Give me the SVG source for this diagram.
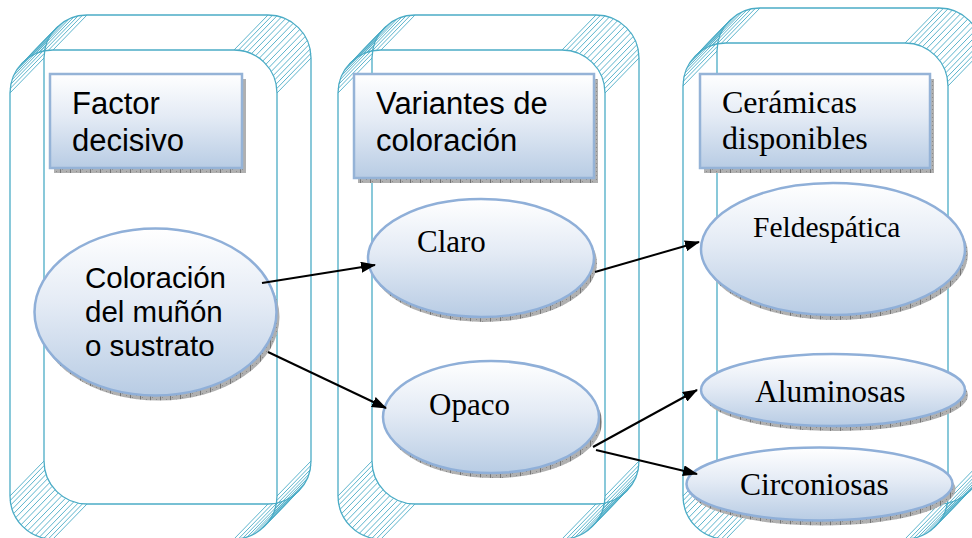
<svg xmlns="http://www.w3.org/2000/svg" xmlns:xlink="http://www.w3.org/1999/xlink" width="972" height="538" viewBox="0 0 972 538">
<style>
.frame{fill:none;stroke:#4bacc6;stroke-width:1.3}
.hatch{fill:none;stroke:#4bacc6;stroke-width:0.9}
.box{fill:url(#grad);stroke:#95b3d7;stroke-width:2.5}
.ell{fill:url(#grad);stroke:#8fafd8;stroke-width:2.5}
.shadow{fill:url(#shd)}
.sans{font-family:"Liberation Sans",Arial,sans-serif;fill:#000}
.serif{font-family:"Liberation Serif","Times New Roman",serif;fill:#000}
.conn{fill:none;stroke:#000;stroke-width:2}
</style>
<defs>
<linearGradient id="grad" x1="0" y1="0" x2="0" y2="1">
<stop offset="0" stop-color="#ffffff"/>
<stop offset="0.45" stop-color="#e4ebf5"/>
<stop offset="1" stop-color="#b8cce4"/>
</linearGradient>
<pattern id="shd" width="10" height="4" patternUnits="userSpaceOnUse">
<rect width="10" height="4" fill="#b0b0b0"/>
<rect x="2" y="1" width="1" height="1" fill="#8a8a8a"/>
<rect x="6" y="3" width="1" height="1" fill="#8a8a8a"/>
<rect x="0" y="0" width="0.8" height="4" fill="#666"/>
</pattern>
<marker id="arr" markerUnits="userSpaceOnUse" markerWidth="15" markerHeight="11" refX="14" refY="5.5" orient="auto">
<path d="M0 0L15 5.5L0 11z" fill="#000"/>
</marker>
<path id="hTL" class="hatch" d="M-43 0l34-35M-42.8-4.5l34-35M-42.1-8.9l34-35M-40.9-13.3l34-35M-39.3-17.5l34-35M-37.2-21.5l34-35M-34.8-25.3l34-35M-32-28.8l34-35M-30.4-30.4l34-35M-28.8-32l34-35M-25.3-34.8l34-35M-21.5-37.2l34-35M-17.5-39.3l34-35M-13.3-40.9l34-35M-8.9-42.1l34-35M-4.5-42.8l34-35M0-43l34-35"/>
<path id="hTR" class="hatch" d="M43 0l34-35M42.8-4.5l34-35M42.1-8.9l34-35M40.9-13.3l34-35M39.3-17.5l34-35M37.2-21.5l34-35M34.8-25.3l34-35M32-28.8l34-35M28.8-32l34-35M25.3-34.8l34-35M21.5-37.2l34-35M17.5-39.3l34-35M13.3-40.9l34-35M8.9-42.1l34-35M4.5-42.8l34-35M0-43l34-35"/>
<path id="hBL" class="hatch" d="M-43 0l34-35M-42.8 4.5l34-35M-42.1 8.9l34-35M-40.9 13.3l34-35M-39.3 17.5l34-35M-37.2 21.5l34-35M-34.8 25.3l34-35M-32 28.8l34-35M-28.8 32l34-35M-25.3 34.8l34-35M-21.5 37.2l34-35M-17.5 39.3l34-35M-13.3 40.9l34-35M-8.9 42.1l34-35M-4.5 42.8l34-35M0 43l34-35"/>
<path id="hBR" class="hatch" d="M43 0l34-35M42.8 4.5l34-35M42.1 8.9l34-35M40.9 13.3l34-35M39.3 17.5l34-35M37.2 21.5l34-35M34.8 25.3l34-35M32 28.8l34-35M30.4 30.4l34-35M28.8 32l34-35M25.3 34.8l34-35M21.5 37.2l34-35M17.5 39.3l34-35M13.3 40.9l34-35M8.9 42.1l34-35M4.5 42.8l34-35M0 43l34-35"/>
</defs>
<rect width="972" height="538" fill="#fff"/>

<g id="panel-1">
<rect class="frame" x="10" y="50" width="267" height="489" rx="43"/>
<rect class="frame" x="44" y="15" width="267" height="489" rx="43"/>
<use xlink:href="#hTL" href="#hTL" x="53" y="93"/>
<use xlink:href="#hTR" href="#hTR" x="234" y="93"/>
<use xlink:href="#hBL" href="#hBL" x="53" y="496"/>
<use xlink:href="#hBR" href="#hBR" x="234" y="496"/>
</g>
<g id="panel-2">
<rect class="frame" x="338" y="50" width="267" height="489" rx="43"/>
<rect class="frame" x="372" y="15" width="267" height="489" rx="43"/>
<use xlink:href="#hTL" href="#hTL" x="381" y="93"/>
<use xlink:href="#hTR" href="#hTR" x="562" y="93"/>
<use xlink:href="#hBL" href="#hBL" x="381" y="496"/>
<use xlink:href="#hBR" href="#hBR" x="562" y="496"/>
</g>
<g id="panel-3">
<rect class="frame" x="683" y="43" width="265" height="496" rx="43"/>
<rect class="frame" x="717" y="8" width="265" height="496" rx="43"/>
<use xlink:href="#hTL" href="#hTL" x="726" y="86"/>
<use xlink:href="#hTR" href="#hTR" x="905" y="86"/>
<use xlink:href="#hBL" href="#hBL" x="726" y="496"/>
<use xlink:href="#hBR" href="#hBR" x="905" y="496"/>
</g>

<g id="factor-decisivo">
<rect class="shadow" x="54" y="79" width="192" height="94"/>
<rect class="box" x="50" y="74" width="192" height="94"/>
<text class="sans" font-size="31"><tspan x="72" y="114">Factor</tspan><tspan x="72" y="151">decisivo</tspan></text>
</g>
<g id="variantes">
<rect class="shadow" x="358" y="79" width="240" height="104"/>
<rect class="box" x="354" y="74" width="240" height="104"/>
<text class="sans" font-size="31"><tspan x="376" y="114">Variantes de</tspan><tspan x="376" y="151">coloración</tspan></text>
</g>
<g id="ceramicas">
<rect class="shadow" x="704" y="79" width="230" height="94"/>
<rect class="box" x="700" y="74" width="230" height="94"/>
<text class="serif" font-size="32"><tspan x="722" y="113">Cerámicas</tspan><tspan x="722" y="149">disponibles</tspan></text>
</g>

<g id="coloracion">
<ellipse class="shadow" cx="158.5" cy="317" rx="121" ry="83.5"/>
<ellipse class="ell" cx="155.5" cy="312" rx="121" ry="83.5"/>
<text class="sans" font-size="29.5"><tspan x="85" y="288">Coloración</tspan><tspan x="85" y="322">del muñón</tspan><tspan x="85" y="356">o sustrato</tspan></text>
</g>
<g id="claro">
<ellipse class="shadow" cx="484" cy="263" rx="113" ry="59"/>
<ellipse class="ell" cx="481" cy="258" rx="113" ry="59"/>
<text class="serif" font-size="31" x="417" y="252">Claro</text>
</g>
<g id="opaco">
<ellipse class="shadow" cx="494" cy="422" rx="108" ry="56"/>
<ellipse class="ell" cx="491" cy="417" rx="108" ry="56"/>
<text class="serif" font-size="31" x="429" y="415">Opaco</text>
</g>
<g id="feldespatica">
<ellipse class="shadow" cx="836" cy="254" rx="132" ry="66"/>
<ellipse class="ell" cx="833" cy="249" rx="132" ry="66"/>
<text class="serif" font-size="29.5" x="753" y="237">Feldespática</text>
</g>
<g id="aluminosas">
<ellipse class="shadow" cx="836" cy="395" rx="132" ry="36"/>
<ellipse class="ell" cx="833" cy="390" rx="132" ry="36"/>
<text class="serif" font-size="31.5" x="755" y="402">Aluminosas</text>
</g>
<g id="circoniosas">
<ellipse class="shadow" cx="822.5" cy="489" rx="133" ry="36.5"/>
<ellipse class="ell" cx="819.5" cy="484" rx="133" ry="36.5"/>
<text class="serif" font-size="31.5" x="740" y="495">Circoniosas</text>
</g>

<g id="connectors">
<path class="conn" marker-end="url(#arr)" d="M262 283L375 265"/>
<path class="conn" marker-end="url(#arr)" d="M268 352L386 408"/>
<path class="conn" marker-end="url(#arr)" d="M595 272L699 242"/>
<path class="conn" marker-end="url(#arr)" d="M593 447L697 390"/>
<path class="conn" marker-end="url(#arr)" d="M596 450L697 474"/>
</g>
</svg>
